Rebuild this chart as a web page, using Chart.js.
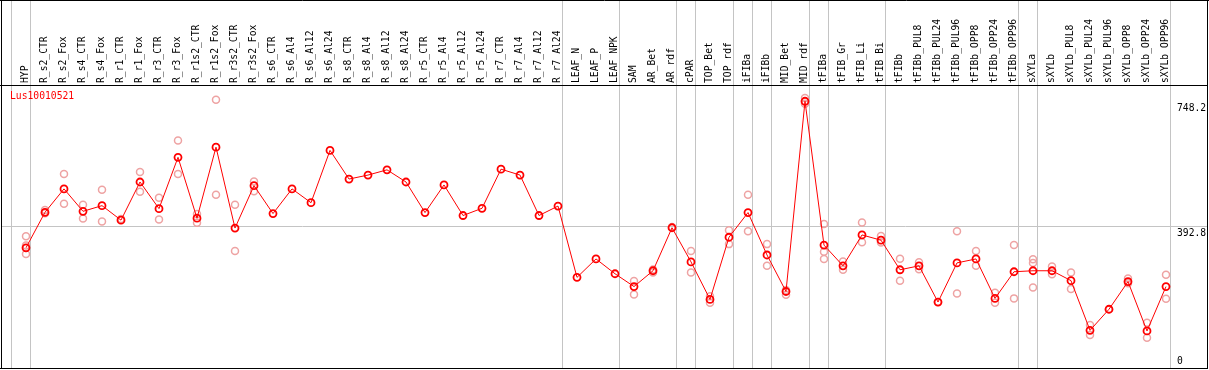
<!DOCTYPE html>
<html>
<head>
<meta charset="utf-8">
<script src="https://cdn.jsdelivr.net/npm/chart.js@4/dist/chart.umd.min.js"></script>
<style>
  html, body { margin: 0; padding: 0; background: #ffffff; }
  #wrap { width: 1209px; height: 370px; position: relative; }
</style>
</head>
<body>
<div id="wrap"><canvas id="c" width="1209" height="370"></canvas></div>
<script>
const title = 'Lus10010521';
const categories = ['HYP','R_s2_CTR','R_s2_Fox','R_s4_CTR','R_s4_Fox','R_r1_CTR','R_r1_Fox','R_r3_CTR','R_r3_Fox','R_r1s2_CTR','R_r1s2_Fox','R_r3s2_CTR','R_r3s2_Fox','R_s6_CTR','R_s6_Al4','R_s6_Al12','R_s6_Al24','R_s8_CTR','R_s8_Al4','R_s8_Al12','R_s8_Al24','R_r5_CTR','R_r5_Al4','R_r5_Al12','R_r5_Al24','R_r7_CTR','R_r7_Al4','R_r7_Al12','R_r7_Al24','LEAF_N','LEAF_P','LEAF_NPK','SAM','AR_Bet','AR_rdf','cPAR','TOP_Bet','TOP_rdf','iFIBa','iFIBb','MID_Bet','MID_rdf','tFIBa','tFIB_Gr','tFIB_Li','tFIB_Bi','tFIBb','tFIBb_PUL8','tFIBb_PUL24','tFIBb_PUL96','tFIBb_OPP8','tFIBb_OPP24','tFIBb_OPP96','sXYLa','sXYLb','sXYLb_PUL8','sXYLb_PUL24','sXYLb_PUL96','sXYLb_OPP8','sXYLb_OPP24','sXYLb_OPP96'];

const meanValues = [331.3,432.3,498.9,435.1,451.2,409.9,518.5,442.7,588.7,415.5,617.6,387.4,508.1,428.7,498.9,459.6,608.4,526.9,538.2,553.1,518.5,431.5,510.1,423.1,443.6,555.0,538.2,423.1,450.0,247.1,299.5,257.4,220.9,265.9,388.3,291.1,184.4,361.3,431.5,310.8,206.9,748.2,338.9,279.9,367.8,352.9,268.7,279.9,176.9,288.3,299.5,187.3,263.1,265.9,265.9,237.8,96.3,156.4,235.0,94.6,220.9];

const rep1 = [364.1,438.8,541.0,454.0,496.1,413.5,546.6,473.6,636.4,427.6,752.4,454.0,520.2,null,null,null,null,null,null,null,null,null,null,null,null,null,null,null,null,null,null,null,236.7,269.5,390.2,322.0,193.7,381.0,482.0,341.7,211.4,757.2,398.7,292.0,403.4,365.0,300.4,290.0,176.9,378.2,322.0,203.0,338.9,298.4,277.9,261.1,111.5,156.4,244.2,117.9,254.6];
const rep2 = [337.7,429.5,456.8,414.7,406.2,null,490.5,411.8,541.0,402.3,482.0,322.0,492.1,null,null,null,null,null,null,null,null,null,null,null,null,null,null,null,null,null,null,null,198.5,261.0,null,261.1,174.9,341.7,378.2,279.9,197.4,741.2,320.0,268.7,347.3,346.2,237.8,270.3,null,201.3,279.9,174.9,187.3,288.3,256.3,214.2,83.4,null,230.2,75.0,186.1];
const rep3 = [313.6,null,null,null,null,null,null,null,null,null,null,null,null,null,null,null,null,null,null,null,null,null,null,null,null,null,null,null,null,null,null,null,null,null,null,null,null,null,null,null,null,null,299.5,null,null,null,null,null,null,null,null,null,null,218.1,null,null,null,null,null,null,null];

const groupEnds = [-1,0,28,31,34,35,37,38,39,41,42,45,52,53,60];
const yTickValues = [0, 392.8, 748.2];
const yTickLabels = ['0', '392.8', '748.2'];
const refLineValue = 392.8;

const FONT = '"DejaVu Sans Mono", monospace';
const FSIZE = 9.7;

const decorPlugin = {
  id: 'decor',
  beforeDatasetsDraw(chart) {
    const ctx = chart.ctx;
    const x = chart.scales.x, y = chart.scales.y;
    const W = chart.width;
    ctx.save();
    ctx.strokeStyle = '#c4c4c4';
    ctx.lineWidth = 1;
    const step = x.getPixelForValue(1) - x.getPixelForValue(0);
    groupEnds.forEach(i => {
      const px = Math.round(x.getPixelForValue(0) + step * (i + 0.22)) + 0.5;
      ctx.beginPath(); ctx.moveTo(px, 0); ctx.lineTo(px, 368); ctx.stroke();
    });
    const ry = Math.round(y.getPixelForValue(refLineValue)) + 0.5;
    ctx.beginPath(); ctx.moveTo(1, ry); ctx.lineTo(1207, ry); ctx.stroke();
    ctx.strokeStyle = '#000000';
    ctx.beginPath();
    ctx.moveTo(0, 0.5); ctx.lineTo(W, 0.5);
    ctx.moveTo(1.5, 0); ctx.lineTo(1.5, 369);
    ctx.moveTo(0, 85.5); ctx.lineTo(1208, 85.5);
    ctx.moveTo(0, 368.5); ctx.lineTo(1208, 368.5);
    ctx.moveTo(1207.5, 0); ctx.lineTo(1207.5, 369);
    ctx.stroke();
    ctx.restore();
  },
  afterDraw(chart) {
    const ctx = chart.ctx;
    const y = chart.scales.y;
    ctx.save();
    ctx.font = FSIZE + 'px ' + FONT;
    ctx.textBaseline = 'top';
    ctx.textAlign = 'left';
    ctx.fillStyle = '#ff0000';
    ctx.fillText(title, 10, 91.5);
    ctx.fillStyle = '#000000';
    yTickValues.forEach((v, i) => {
      let py = y.getPixelForValue(v) + 2;
      if (py > 357) py = 357;
      ctx.fillText(yTickLabels[i], 1177, py);
    });
    ctx.restore();
  }
};

const mkRep = arr => ({
  data: arr,
  showLine: false,
  pointRadius: 3.5,
  pointBorderWidth: 1.5,
  pointBorderColor: '#eea3a3',
  pointBackgroundColor: 'rgba(0,0,0,0)',
  borderColor: '#eea3a3',
  order: 2
});

new Chart(document.getElementById('c'), {
  type: 'line',
  data: {
    labels: categories,
    datasets: [
      {
        data: meanValues,
        borderColor: '#ff0000',
        borderWidth: 1,
        tension: 0,
        pointRadius: 3.5,
        pointBorderWidth: 1.8,
        pointBorderColor: '#ff0000',
        pointBackgroundColor: 'rgba(0,0,0,0)',
        order: 1
      },
      mkRep(rep1), mkRep(rep2), mkRep(rep3)
    ]
  },
  options: {
    responsive: false,
    animation: false,
    events: [],
    layout: { padding: { left: 16.5, right: 33.5, top: 0, bottom: 1.5 } },
    plugins: { legend: { display: false }, tooltip: { enabled: false }, title: { display: false } },
    scales: {
      x: {
        position: 'top',
        offset: true,
        border: { display: false },
        grid: { display: false, drawTicks: false },
        afterFit(scale) { scale.height = 85; },
        ticks: {
          autoSkip: false,
          maxRotation: 90,
          minRotation: 90,
          padding: 2,
          labelOffset: 11.6,
          color: '#000000',
          font: { family: FONT, size: FSIZE }
        }
      },
      y: {
        display: false,
        min: 0,
        max: 794.5
      }
    }
  },
  plugins: [decorPlugin]
});
</script>
</body>
</html>
